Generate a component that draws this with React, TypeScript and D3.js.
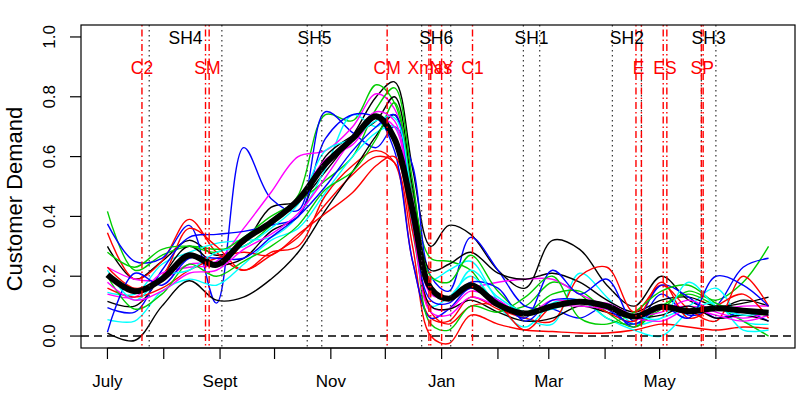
import React from "react";
import * as d3 from "d3";

// days since 1 July for each knot of the demand curves
const days = [0, 15, 30, 45, 60, 75, 90, 105, 120, 135, 148, 158, 168, 178, 188, 200, 215, 230, 245, 260, 275, 290, 305, 320, 335, 350, 364];

const black1 = [0.30, 0.19, 0.25, 0.32, 0.27, 0.31, 0.43, 0.45, 0.55, 0.67, 0.80, 0.85, 0.56, 0.30, 0.37, 0.34, 0.22, 0.16, 0.32, 0.29, 0.17, 0.10, 0.20, 0.12, 0.09, 0.12, 0.10];
const red1 = [0.345, 0.19, 0.25, 0.39, 0.28, 0.22, 0.27, 0.33, 0.44, 0.54, 0.60, 0.58, 0.30, 0.00, -0.025, 0.07, 0.04, 0.02, 0.015, 0.01, 0.01, 0.02, 0.04, 0.03, 0.02, 0.03, 0.025];
const green1 = [0.417, 0.22, 0.27, 0.30, 0.29, 0.30, 0.37, 0.47, 0.74, 0.72, 0.84, 0.78, 0.48, 0.26, 0.25, 0.22, 0.10, 0.10, 0.18, 0.14, 0.06, 0.04, 0.09, 0.15, 0.12, 0.18, 0.30];
const blue1 = [0.375, 0.25, 0.26, 0.37, 0.11, 0.63, 0.46, 0.42, 0.75, 0.68, 0.63, 0.70, 0.57, 0.20, 0.15, 0.33, 0.22, 0.10, 0.09, 0.06, 0.10, 0.03, 0.14, 0.07, 0.10, 0.23, 0.26];
const cyan1 = [0.146, 0.14, 0.24, 0.28, 0.31, 0.32, 0.33, 0.40, 0.56, 0.74, 0.70, 0.74, 0.42, 0.19, 0.22, 0.25, 0.12, 0.06, 0.04, 0.21, 0.13, 0.04, 0.06, 0.10, 0.16, 0.05, 0.04];
const magenta1 = [0.23, 0.19, 0.19, 0.24, 0.25, 0.36, 0.48, 0.60, 0.62, 0.70, 0.81, 0.76, 0.46, 0.14, 0.13, 0.16, 0.18, 0.19, 0.19, 0.14, 0.10, 0.06, 0.09, 0.10, 0.09, 0.10, 0.10];
const black2 = [0.116, 0.10, 0.20, 0.30, 0.24, 0.26, 0.35, 0.40, 0.60, 0.67, 0.72, 0.80, 0.50, 0.22, 0.24, 0.28, 0.21, 0.19, 0.21, 0.18, 0.12, 0.08, 0.12, 0.13, 0.10, 0.11, 0.13];
const red2 = [0.23, 0.16, 0.20, 0.36, 0.30, 0.22, 0.28, 0.30, 0.47, 0.57, 0.62, 0.58, 0.25, 0.06, 0.05, 0.13, 0.09, 0.06, 0.05, 0.20, 0.23, 0.08, 0.17, 0.09, 0.05, 0.20, 0.10];
const green2 = [0.28, 0.23, 0.29, 0.30, 0.28, 0.33, 0.40, 0.45, 0.52, 0.60, 0.76, 0.83, 0.52, 0.20, 0.18, 0.27, 0.15, 0.08, 0.14, 0.15, 0.08, 0.03, 0.10, 0.14, 0.10, 0.05, 0.00];
const blue2 = [0.095, 0.08, 0.22, 0.33, 0.34, 0.35, 0.37, 0.40, 0.66, 0.74, 0.73, 0.62, 0.25, 0.06, 0.09, 0.16, 0.12, 0.06, 0.22, 0.14, 0.19, 0.05, 0.17, 0.13, 0.06, 0.08, 0.05];
const cyan2 = [0.055, 0.05, 0.15, 0.19, 0.17, 0.24, 0.32, 0.36, 0.48, 0.60, 0.68, 0.70, 0.35, 0.10, 0.13, 0.20, 0.10, 0.03, 0.11, 0.12, 0.06, 0.02, 0.00, 0.08, 0.11, 0.02, 0.02];
const magenta2 = [0.14, 0.13, 0.21, 0.23, 0.24, 0.32, 0.38, 0.46, 0.59, 0.64, 0.73, 0.70, 0.40, 0.10, 0.09, 0.15, 0.12, 0.07, 0.12, 0.11, 0.11, 0.07, 0.08, 0.12, 0.08, 0.06, 0.08];
const black3 = [0.01, -0.015, 0.10, 0.185, 0.12, 0.13, 0.19, 0.28, 0.42, 0.55, 0.67, 0.74, 0.40, 0.10, 0.09, 0.12, 0.08, 0.05, 0.06, 0.10, 0.08, 0.06, 0.07, 0.10, 0.06, 0.07, 0.05];
const red3 = [0.16, 0.13, 0.16, 0.22, 0.26, 0.28, 0.27, 0.34, 0.41, 0.48, 0.57, 0.60, 0.35, 0.08, 0.04, 0.10, 0.10, 0.02, 0.10, 0.12, 0.08, 0.05, 0.18, 0.06, 0.10, 0.14, 0.06];
const green3 = [0.20, 0.09, 0.14, 0.24, 0.20, 0.25, 0.30, 0.37, 0.49, 0.55, 0.66, 0.78, 0.45, 0.04, 0.02, 0.10, 0.08, 0.13, 0.20, 0.06, 0.04, 0.08, 0.15, 0.17, 0.11, 0.08, 0.07];
const blue3 = [0.013, 0.21, 0.17, 0.26, 0.26, 0.26, 0.33, 0.40, 0.50, 0.62, 0.70, 0.74, 0.38, 0.12, 0.11, 0.18, 0.16, 0.05, 0.12, 0.12, 0.09, 0.04, 0.10, 0.06, 0.20, 0.17, 0.10];
const cyan3 = [0.22, 0.12, 0.20, 0.22, 0.28, 0.30, 0.36, 0.44, 0.62, 0.66, 0.72, 0.73, 0.45, 0.15, 0.12, 0.22, 0.13, 0.08, 0.09, 0.12, 0.10, 0.07, 0.06, 0.18, 0.10, 0.07, 0.08];
const magenta3 = [0.18, 0.12, 0.15, 0.21, 0.22, 0.29, 0.34, 0.41, 0.53, 0.66, 0.75, 0.72, 0.38, 0.08, 0.07, 0.13, 0.10, 0.08, 0.10, 0.10, 0.09, 0.06, 0.05, 0.09, 0.07, 0.05, 0.07];

const meanDemand = [0.205, 0.15, 0.19, 0.27, 0.238, 0.32, 0.38, 0.455, 0.575, 0.66, 0.735, 0.66, 0.42, 0.16, 0.125, 0.17, 0.105, 0.075, 0.10, 0.115, 0.10, 0.065, 0.098, 0.083, 0.093, 0.085, 0.078];

const curves = [black1, red1, green1, blue1, cyan1, magenta1, black2, red2, green2, blue2, cyan2, magenta2, black3, red3, green3, blue3, cyan3, magenta3];
const palette = ["#000000", "#ff0000", "#00cd00", "#0000ff", "#00ffff", "#ff00ff"];

// month ticks (days since 1 July)
const monthDays = [0, 31, 62, 92, 123, 153, 184, 215, 243, 274, 304, 335];
const monthLabels = ["July", "", "Sept", "", "Nov", "", "Jan", "", "Mar", "", "May", ""];
const yTicks = [0, 0.2, 0.4, 0.6, 0.8, 1.0];

// red dot-dash event lines and their labels
const eventDays = [19, 54, 56, 154, 177, 178, 184, 201, 291, 294, 306, 308, 327, 328];
const eventLabels = ["C2", "SM", "CM", "Xmas", "NY", "C1", "E", "ES", "SP"];
const eventLabelDays = [19, 55, 154, 177.5, 184, 201, 292.5, 307, 327.5];

// school holidays (black dotted lines)
const holidayStarts = [23, 110, 173, 229, 278, 327];
const holidayEnds = [63, 118, 189, 238, 294, 335];
const holidayLabels = ["SH4", "SH5", "SH6", "SH1", "SH2", "SH3"];

const W = 800;
const H = 395;
const m = {left: 81, right: 795, top: 25, bottom: 348};
const font = "'Liberation Sans', Arial, Helvetica, sans-serif";

export default function App() {
	const x = d3.scaleLinear().domain([-14.56, 378.56]).range([m.left, m.right]);
	const y = d3.scaleLinear().domain([-0.04, 1.04]).range([m.bottom, m.top]);

	const line = d3
		.line<number>()
		.x((_, i) => x(days[i]))
		.y((d) => y(d))
		.curve(d3.curveCatmullRom.alpha(0.5));

	return (
		<svg width={W} height={H} style={{position: "absolute", left: 0, top: 0}} fontFamily={font}>
			<rect width={W} height={H} fill="white" />
			<defs>
				<clipPath id="plot">
					<rect x={m.left} y={m.top} width={m.right - m.left} height={m.bottom - m.top} />
				</clipPath>
			</defs>

			<g clipPath="url(#plot)">
				{curves.map((c, i) => (
					<path key={i} d={line(c) || ""} fill="none" stroke={palette[i % 6]} strokeWidth={1.4} />
				))}
				<path d={line(meanDemand) || ""} fill="none" stroke="#000" strokeWidth={6} strokeLinejoin="round" />

				<line x1={m.left} x2={m.right} y1={y(0)} y2={y(0)} stroke="#000" strokeWidth={1.4} strokeDasharray="8,5" />

				{holidayStarts.concat(holidayEnds).map((d, i) => (
					<line key={"h" + i} x1={x(d)} x2={x(d)} y1={m.top} y2={m.bottom} stroke="#333" strokeWidth={1.2} strokeDasharray="1.5,3.5" />
				))}
				{eventDays.map((d, i) => (
					<line key={"e" + i} x1={x(d)} x2={x(d)} y1={m.top} y2={m.bottom} stroke="#ff0000" strokeWidth={1.4} strokeDasharray="1.5,3,7,3" />
				))}
			</g>

			{holidayLabels.map((l, i) => (
				<text key={l} x={x((holidayStarts[i] + holidayEnds[i]) / 2)} y={44} textAnchor="middle" fontSize={17.5} fill="#000">
					{l}
				</text>
			))}
			{eventLabels.map((l, i) => (
				<text key={l} x={x(eventLabelDays[i])} y={74} textAnchor="middle" fontSize={17.5} fill="#ff0000">
					{l}
				</text>
			))}

			<rect x={m.left} y={m.top} width={m.right - m.left} height={m.bottom - m.top} fill="none" stroke="#000" strokeWidth={1.2} />

			{/* x axis */}
			<line x1={x(monthDays[0])} x2={x(monthDays[monthDays.length - 1])} y1={m.bottom} y2={m.bottom} stroke="#000" strokeWidth={1.2} />
			{monthDays.map((d, i) => (
				<g key={"m" + i}>
					<line x1={x(d)} x2={x(d)} y1={m.bottom} y2={m.bottom + 11} stroke="#000" strokeWidth={1.2} />
					{monthLabels[i] && (
						<text x={x(d)} y={387} textAnchor="middle" fontSize={17}>
							{monthLabels[i]}
						</text>
					)}
				</g>
			))}

			{/* y axis */}
			{yTicks.map((t) => (
				<g key={"y" + t}>
					<line x1={m.left - 11} x2={m.left} y1={y(t)} y2={y(t)} stroke="#000" strokeWidth={1.2} />
					<text transform={`translate(55, ${y(t)}) rotate(-90)`} textAnchor="middle" fontSize={17}>
						{t.toFixed(1)}
					</text>
				</g>
			))}
			<text transform={`translate(22, 199) rotate(-90)`} textAnchor="middle" fontSize={22}>
				Customer Demand
			</text>
		</svg>
	);
}
